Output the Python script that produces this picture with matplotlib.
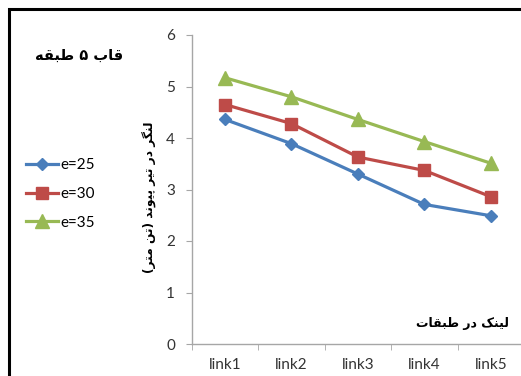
import matplotlib.pyplot as plt
from matplotlib.patches import Rectangle
from matplotlib.ticker import FixedLocator
import numpy as np

links = ["link1", "link2", "link3", "link4", "link5"]
e25 = [4.36, 3.89, 3.30, 2.71, 2.49]
e30 = [4.65, 4.28, 3.63, 3.37, 2.86]
e35 = [5.17, 4.80, 4.36, 3.93, 3.51]
series_names = ["e=25", "e=30", "e=35"]

title_txt = "قاب ۵ طبقه"
xlabel_txt = "لینک در طبقات"
ylabel_txt = "لنگر در تیر پیوند (تن متر)"

# forma de cada letra: (aislada, final, inicial, medial)
# las letras con solo dos formas no se unen a la siguiente
FORMS = {
    'ا': ('\uFE8D', '\uFE8E'),
    'ب': ('\uFE8F', '\uFE90', '\uFE91', '\uFE92'),
    'ت': ('\uFE95', '\uFE96', '\uFE97', '\uFE98'),
    'د': ('\uFEA9', '\uFEAA'),
    'ر': ('\uFEAD', '\uFEAE'),
    'ط': ('\uFEC1', '\uFEC2', '\uFEC3', '\uFEC4'),
    'ق': ('\uFED5', '\uFED6', '\uFED7', '\uFED8'),
    'ل': ('\uFEDD', '\uFEDE', '\uFEDF', '\uFEE0'),
    'م': ('\uFEE1', '\uFEE2', '\uFEE3', '\uFEE4'),
    'ن': ('\uFEE5', '\uFEE6', '\uFEE7', '\uFEE8'),
    'ه': ('\uFEE9', '\uFEEA', '\uFEEB', '\uFEEC'),
    'و': ('\uFEED', '\uFEEE'),
    'پ': ('\uFB56', '\uFB57', '\uFB58', '\uFB59'),
    'ک': ('\uFB8E', '\uFB8F', '\uFB90', '\uFB91'),
    'گ': ('\uFB92', '\uFB93', '\uFB94', '\uFB95'),
    'ی': ('\uFBFC', '\uFBFD', '\uFBFE', '\uFBFF'),
}


def shape(text):
    # une las letras y da vuelta el orden para dibujar de izquierda a derecha
    out = []
    for i, c in enumerate(text):
        if c not in FORMS:
            out.append(c)
            continue
        f = FORMS[c]
        prev = text[i - 1] if i > 0 else None
        nxt = text[i + 1] if i + 1 < len(text) else None
        join_prev = prev in FORMS and len(FORMS[prev]) == 4
        join_next = len(f) == 4 and nxt in FORMS
        if join_prev and join_next:
            out.append(f[3])
        elif join_prev:
            out.append(f[1])
        elif join_next:
            out.append(f[2])
        else:
            out.append(f[0])
    s = "".join(reversed(out))
    return s.translate(str.maketrans("()", ")("))


plt.rcParams['font.family'] = ['Lato', 'DejaVu Sans']
arab = ['DejaVu Sans']

W, H = 521, 376
fig = plt.figure(figsize=(W / 100, H / 100), dpi=100)

# marco negro del grafico
fig.patches.append(Rectangle((8.5 / W, -0.2), 1.2, 1 - 9.5 / H + 0.2,
                             transform=fig.transFigure, fill=False,
                             edgecolor="black", lw=2.2))

ax = fig.add_axes([191.7 / W, (H - 344) / H, 332.4 / W, 309 / H])

x = np.arange(len(links))
colores = ["#4A7EBB", "#BE4B48", "#98B954"]
marcas = ["D", "s", "^"]
tams = [6, 9, 10]
for vals, nom, c, m, ms in zip([e25, e30, e35], series_names, colores, marcas, tams):
    ax.plot(x, vals, color=c, lw=2.3, marker=m, ms=ms, mec=c, mfc=c, label=nom)

ax.set_xlim(-0.5, len(links) - 0.5)
ax.set_ylim(0, 6)
ax.set_yticks(range(0, 7))
ax.set_xticks(x)
ax.set_xticklabels(links)
ax.xaxis.set_minor_locator(FixedLocator(np.arange(-0.5, len(links), 1.0)))

for s in ["top", "right"]:
    ax.spines[s].set_visible(False)
for s in ["left", "bottom"]:
    ax.spines[s].set_color("#A6A6A6")
    ax.spines[s].set_linewidth(1.0)

ax.tick_params(axis="y", length=4, color="#A6A6A6", labelsize=11,
               labelcolor="#333333", pad=8)
ax.tick_params(axis="x", which="major", length=0, labelsize=11,
               labelcolor="#333333", pad=10)
ax.tick_params(axis="x", which="minor", length=4, color="#A6A6A6")

fig.text(79 / W, 1 - 55 / H, shape(title_txt), fontsize=10.5, fontweight="bold",
         family=arab, ha="center", va="center")
fig.text(462 / W, 1 - 323 / H, shape(xlabel_txt), fontsize=9, fontweight="bold",
         family=arab, ha="center", va="center")
fig.text(150 / W, 1 - 197 / H, shape(ylabel_txt), fontsize=8.8, fontweight="bold",
         family=arab, rotation=90, ha="center", va="center")

fig.legend(loc="center left", bbox_to_anchor=(20 / W, 1 - 194 / H),
           frameon=False, fontsize=11, handlelength=2.1, handletextpad=0.12,
           labelspacing=0.95, borderaxespad=0)

fig.savefig("out.png", dpi=100)
